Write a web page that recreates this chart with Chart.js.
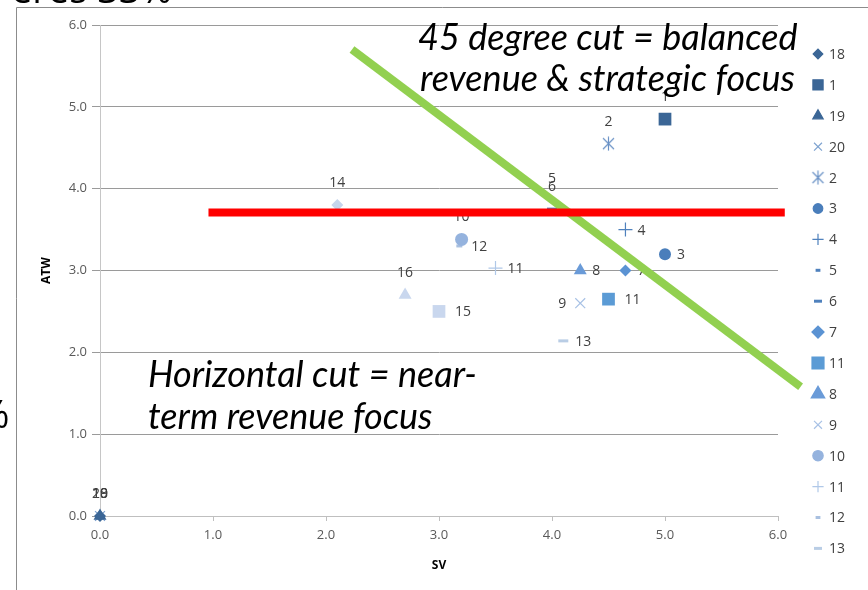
<!DOCTYPE html>
<html>
<head>
<meta charset="utf-8">
<script src="https://cdn.jsdelivr.net/npm/chart.js@4/dist/chart.umd.min.js"></script>
<style>
    html, body { margin: 0; padding: 0; background: #fff; }
    canvas { display: block; }
</style>
</head>
<body>
<canvas id="scoreChart" width="868" height="590"></canvas>
<script>
// Scatter SV vs ATW - one series per item

const seriesNames = ['18', '1', '19', '20', '2', '3', '4', '5', '6', '7', '11', '8', '9', '10', '11', '12', '13', '14', '15', '16'];
const svValues = [0, 5.0, 0, 0, 4.5, 5.0, 4.65, 4.0, 4.0, 4.65, 4.5, 4.25, 4.25, 3.2, 3.5, 3.18, 4.1, 2.1, 3.0, 2.7];
const atwValues = [0, 4.85, 0, 0, 4.55, 3.2, 3.5, 3.85, 3.75, 3.0, 2.65, 3.0, 2.6, 3.38, 3.03, 3.3, 2.14, 3.8, 2.5, 2.7];
const legendCount = 17; // only these fit in the picture

const xTicks = [0, 1, 2, 3, 4, 5, 6];
const yTicks = [0, 1, 2, 3, 4, 5, 6];

// the two cut lines (x, y pairs)
const horizontalCutX = [0.96, 6.06];
const horizontalCutY = [3.71, 3.71];
const diagonalCutX = [2.23, 6.2];
const diagonalCutY = [5.70, 1.58];

// star marker like Excel's (x + vertical bar)
function makeStar(color) {
    const c = document.createElement('canvas');
    c.width = 15; c.height = 15;
    const g = c.getContext('2d');
    g.strokeStyle = color;
    g.lineWidth = 1.2;
    g.beginPath();
    g.moveTo(2, 2); g.lineTo(13, 13);
    g.moveTo(13, 2); g.lineTo(2, 13);
    g.moveTo(7.5, 0.5); g.lineTo(7.5, 14.5);
    g.stroke();
    return c;
}

const styles = [
    { color: '#3B6696', shape: 'rectRot', r: 6 },
    { color: '#3B6696', shape: 'rect', r: 9 },
    { color: '#3B6696', shape: 'triangle', r: 7.5 },
    { color: '#7FA3D0', shape: 'crossRot', r: 7 },
    { color: '#6A92C6', shape: makeStar('#6A92C6'), r: 7 },
    { color: '#4A7EBB', shape: 'circle', r: 6 },
    { color: '#4F81BD', shape: 'cross', r: 7 },
    { color: '#4F81BD', shape: 'line', r: 3 },
    { color: '#4F81BD', shape: 'line', r: 5 },
    { color: '#5B93D3', shape: 'rectRot', r: 6 },
    { color: '#5B9BD5', shape: 'rect', r: 9 },
    { color: '#6A9BD8', shape: 'triangle', r: 7.5 },
    { color: '#A7C1E5', shape: 'crossRot', r: 7 },
    { color: '#95B3DE', shape: 'circle', r: 6.5 },
    { color: '#B0C8E8', shape: 'cross', r: 7 },
    { color: '#A9C0E0', shape: 'line', r: 3 },
    { color: '#B9CDE5', shape: 'line', r: 5 },
    { color: '#C6D5EC', shape: 'rectRot', r: 6 },
    { color: '#C9D7EE', shape: 'rect', r: 9 },
    { color: '#C9D7EE', shape: 'triangle', r: 7.5 },
];

const labelSide = ['top', 'top', 'top', 'top', 'top', 'right', 'right', 'top', 'top', 'right',
    'right', 'right', 'left', 'top', 'right', 'right', 'right', 'top', 'right', 'top'];

const FONT = "'Open Sans', 'Liberation Sans', sans-serif";

function isStroke(shape) {
    return shape === 'cross' || shape === 'crossRot' || shape === 'line';
}

const pointSets = seriesNames.map((name, i) => {
    const s = styles[i];
    return {
        label: name,
        data: [{ x: svValues[i], y: atwValues[i] }],
        pointStyle: s.shape,
        pointRadius: s.r,
        pointBackgroundColor: s.color,
        pointBorderColor: s.color,
        pointBorderWidth: s.shape === 'line' ? 3 : (isStroke(s.shape) ? 1.2 : 0),
        clip: false,
        order: 1,
    };
});

const lineSets = [
    {
        label: 'horizontal',
        data: horizontalCutX.map((x, i) => ({ x: x, y: horizontalCutY[i] })),
        showLine: true,
        borderColor: '#FF0000',
        borderWidth: 8,
        pointRadius: 0,
        clip: false,
        order: 0,
    },
    {
        label: 'diagonal',
        data: diagonalCutX.map((x, i) => ({ x: x, y: diagonalCutY[i] })),
        showLine: true,
        borderColor: '#92D050',
        borderWidth: 8,
        pointRadius: 0,
        clip: false,
        order: 0,
    },
];

// frame and clipped slide text behind the chart
const backdropPlugin = {
    id: 'backdrop',
    beforeDraw(chart) {
        const ctx = chart.ctx;
        ctx.save();
        ctx.strokeStyle = '#8c8c8c';
        ctx.lineWidth = 1;
        ctx.beginPath();
        ctx.moveTo(16.5, 590);
        ctx.lineTo(16.5, 7.5);
        ctx.lineTo(868, 7.5);
        ctx.stroke();
        ctx.fillStyle = '#000';
        ctx.font = "38px " + FONT;
        ctx.textAlign = 'right';
        ctx.textBaseline = 'alphabetic';
        ctx.fillText('eres 33%', 172, 3);
        ctx.textAlign = 'left';
        ctx.fillText('%', -22, 428);
        ctx.restore();
    },
};

// data labels, drawn right after each point series so cut lines cover them
const pointLabelPlugin = {
    id: 'pointLabels',
    afterDatasetDraw(chart, args) {
        const i = args.index;
        if (i >= seriesNames.length) return;
        const el = args.meta.data[0];
        if (!el) return;
        const ctx = chart.ctx;
        ctx.save();
        ctx.fillStyle = '#404040';
        ctx.font = "14px " + FONT;
        ctx.textBaseline = 'middle';
        const side = labelSide[i];
        if (side === 'top') {
            ctx.textAlign = 'center';
            ctx.fillText(seriesNames[i], el.x, el.y - 22);
        } else if (side === 'right') {
            ctx.textAlign = 'left';
            ctx.fillText(seriesNames[i], el.x + 12 + (styles[i].shape === 'rect' ? 4 : 0), el.y + 1);
        } else {
            ctx.textAlign = 'right';
            ctx.fillText(seriesNames[i], el.x - 14, el.y + 1);
        }
        ctx.restore();
    },
};

// legend on the right, one entry per row
const sideLegendPlugin = {
    id: 'sideLegend',
    afterDraw(chart) {
        const ctx = chart.ctx;
        ctx.save();
        for (let i = 0; i < legendCount; i++) {
            const s = styles[i];
            const y = 54 + i * 30.9;
            ctx.fillStyle = s.color;
            ctx.strokeStyle = s.color;
            ctx.lineWidth = s.shape === 'line' ? 3 : (isStroke(s.shape) ? 1.2 : 0);
            Chart.helpers.drawPoint(ctx, {
                pointStyle: s.shape,
                radius: s.r * 0.8,
                rotation: 0,
                borderWidth: ctx.lineWidth,
            }, 818, y);
            ctx.fillStyle = '#404040';
            ctx.font = "14px " + FONT;
            ctx.textAlign = 'left';
            ctx.textBaseline = 'middle';
            ctx.fillText(seriesNames[i], 829, y + 1);
        }
        ctx.restore();
    },
};

// italic notes on top
const notesPlugin = {
    id: 'notes',
    afterDraw(chart) {
        const ctx = chart.ctx;
        ctx.save();
        ctx.fillStyle = '#000';
        ctx.font = "italic 36px Lato, " + FONT;
        ctx.textAlign = 'left';
        ctx.textBaseline = 'alphabetic';
        ctx.fillText('45 degree cut = balanced', 418, 50);
        ctx.fillText('revenue & strategic focus', 420, 91);
        ctx.fillText('Horizontal cut = near-', 148, 387);
        ctx.fillText('term revenue focus', 148, 429);
        ctx.restore();
    },
};

new Chart(document.getElementById('scoreChart'), {
    type: 'scatter',
    data: { datasets: pointSets.concat(lineSets) },
    options: {
        responsive: false,
        animation: false,
        layout: { padding: { left: 0, top: 25, right: 90, bottom: 0 } },
        plugins: {
            legend: { display: false },
            tooltip: { enabled: false },
        },
        scales: {
            x: {
                type: 'linear',
                min: 0,
                max: 6,
                afterBuildTicks: (scale) => { scale.ticks = xTicks.map(v => ({ value: v })); },
                afterFit: (scale) => { scale.height = 74; },
                ticks: {
                    color: '#595959',
                    font: { family: FONT, size: 13 },
                    padding: 6,
                    callback: (v) => Number(v).toFixed(1),
                },
                grid: { drawOnChartArea: false, drawTicks: true, tickLength: 5, color: '#bfbfbf' },
                border: { color: '#bfbfbf' },
                title: {
                    display: true,
                    text: 'SV',
                    color: '#000',
                    font: { family: FONT, size: 12, weight: 'bold' },
                    padding: { top: 0, bottom: 17 },
                },
            },
            y: {
                type: 'linear',
                min: 0,
                max: 6,
                afterBuildTicks: (scale) => { scale.ticks = yTicks.map(v => ({ value: v })); },
                afterFit: (scale) => { scale.width = 100; },
                ticks: {
                    color: '#595959',
                    font: { family: FONT, size: 13 },
                    padding: 5,
                    callback: (v) => Number(v).toFixed(1),
                },
                grid: { color: '#9a9a9a', tickLength: 8 },
                border: { color: '#c6c6c6' },
                title: {
                    display: true,
                    text: 'ATW',
                    color: '#000',
                    font: { family: FONT, size: 12, weight: 'bold' },
                    padding: { top: 39, bottom: 0 },
                },
            },
        },
    },
    plugins: [backdropPlugin, pointLabelPlugin, sideLegendPlugin, notesPlugin],
});
</script>
</body>
</html>
